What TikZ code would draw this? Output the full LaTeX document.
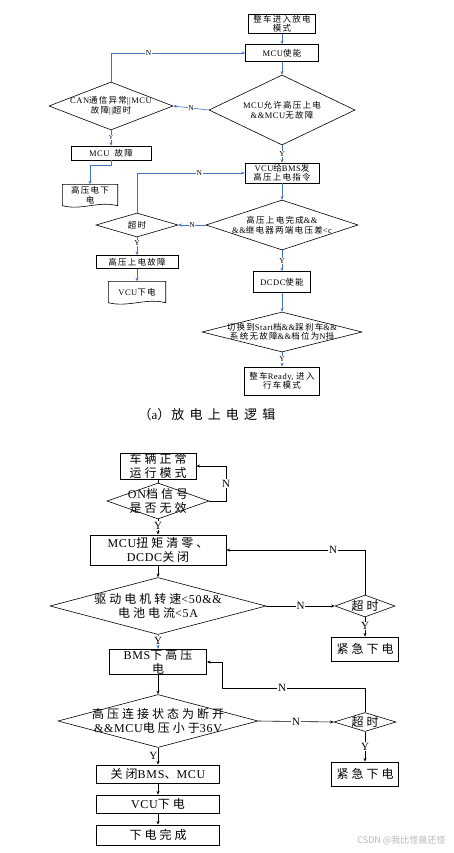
\documentclass[tikz,border=0pt]{standalone}
\usepackage{fontspec}
\usetikzlibrary{shapes.geometric,arrows.meta}
\setmainfont{Liberation Serif}
\newfontfamily\latinfont{Liberation Serif}[LetterSpace=6]
\newfontfamily\zhfont{Noto Sans CJK SC}[LetterSpace=15]
\newfontfamily\zhwide{Noto Sans CJK SC}[LetterSpace=25]
\newfontfamily\captzh{Noto Sans CJK SC}[LetterSpace=40]
\newfontfamily\markfont{Noto Sans CJK SC}

% switch fonts between Chinese and Latin characters
\newcommand\zhsel{\zhfont}
\newcommand\latinsel{\latinfont}
\XeTeXinterchartokenstate=1
\newXeTeXintercharclass\zhclass
\newcount\zhcnt
\zhcnt="3000
\loop
  \XeTeXcharclass\zhcnt=\zhclass
  \advance\zhcnt by 1
\ifnum\zhcnt<"A000 \repeat
\zhcnt="FF00
\loop
  \XeTeXcharclass\zhcnt=\zhclass
  \advance\zhcnt by 1
\ifnum\zhcnt<"FFF0 \repeat
\XeTeXinterchartoks 0 \zhclass = {\zhsel}
\XeTeXinterchartoks 4095 \zhclass = {\zhsel}
\XeTeXinterchartoks \zhclass 0 = {\latinsel}
\XeTeXinterchartoks 4095 0 = {\latinsel}

\definecolor{linkblue}{RGB}{68,114,196}
\newcommand\topfont{\fontsize{8.5}{9.5}\selectfont}
\newcommand\botfont{\let\zhsel\zhwide\fontsize{12}{13.5}\selectfont}
\newcommand\captfont{\let\zhsel\captzh\fontsize{13}{13}\selectfont}
\newcommand\markfnt{\let\zhsel\markfont\let\latinsel\markfont\fontsize{9}{9}\selectfont}
% outline of a document symbol round a node
\newcommand\docline[1]{\draw[line width=0.6pt] (#1.south west) -- (#1.north west) -- (#1.north east) -- (#1.south east) .. controls +(-20,-5) and +(20,5) .. (#1.south west);}

\begin{document}
\begin{tikzpicture}[x=1pt, y=-1pt,
  >={Stealth[length=3.5pt, width=3pt]},
  topbox/.style={draw, line width=0.8pt, inner sep=0.5pt, align=center, font=\topfont},
  topdia/.style={draw, diamond, line width=0.6pt, inner sep=0pt},
  toptext/.style={align=center, font=\topfont, inner sep=0pt},
  topdoc/.style={inner sep=0.5pt, align=center, font=\topfont},
  bluelink/.style={->, draw=linkblue, line width=0.6pt},
  toplab/.style={fill=white, inner sep=0.6pt, font=\fontsize{7.5}{8}\selectfont},
  botbox/.style={draw, line width=0.9pt, inner sep=0.5pt, align=center, font=\botfont},
  botdia/.style={draw, diamond, line width=0.6pt, inner sep=0pt},
  bottext/.style={align=center, font=\botfont, inner sep=0pt},
  blacklink/.style={->, line width=0.6pt},
  botlab/.style={fill=white, inner sep=0.8pt, font=\fontsize{11}{11}\selectfont},
]
\useasboundingbox (0,0) rectangle (453,853);
\fill[white] (0,0) rectangle (453,853);

% (a) power up
\node[topbox, minimum width=67, minimum height=17] (start) at (282,24) {整车进入放电\\模式};
\node[topbox, minimum width=73, minimum height=17] (mcuen) at (282,53) {MCU使能};
\node[topdia, minimum width=146, minimum height=70, label={[toptext]center:MCU允许高压上电\\\&\&MCU无故障}] (allow) at (282,110) {};
\node[topdia, minimum width=124, minimum height=48, label={[toptext]center:CAN通信异常||MCU\\故障||超时}] (canerr) at (111,106) {};
\node[topbox, minimum width=80, minimum height=14] (mcuerr) at (111,153) {MCU\ \ 故障};
\node[topdoc, minimum width=55, minimum height=21] (hvoff) at (90,195) {高压电下\\电};
\node[topbox, minimum width=74, minimum height=20] (hvcmd) at (282,173) {VCU给BMS发\\高压上电指令};
\node[topdia, minimum width=152, minimum height=50, label={[toptext]center:高压上电完成\&\&\\\&\&继电器两端电压差<c}] (hvdone) at (282,225) {};
\node[topdia, minimum width=82, minimum height=24, label={[toptext]center:超时}] (tout1) at (137,225) {};
\node[topbox, minimum width=82, minimum height=13] (hverr) at (137,262) {高压上电故障};
\node[topdoc, minimum width=57, minimum height=21] (vcuoff1) at (137,292) {VCU下电};
\node[topbox, minimum width=57, minimum height=21] (dcdc) at (282,282) {DCDC使能};
\node[topdia, minimum width=160, minimum height=40, label={[toptext]center:切换到Start档\&\&踩刹车\&\&\\系统无故障\&\&档位为N挡}] (ready) at (282,332) {};
\node[topbox, minimum width=75, minimum height=28] (drive) at (282,381) {整车Ready, 进入\\行车模式};
\docline{hvoff}
\docline{vcuoff1}

\draw[bluelink] (start) -- (mcuen);
\draw[bluelink] (mcuen) -- (allow);
\draw[bluelink] (allow.west) -- node[toplab]{N} (canerr.east);
\draw[bluelink] (canerr.north) |- node[toplab, pos=0.64]{N} (mcuen.west);
\draw[bluelink] (canerr.south) -- node[toplab, pos=0.45, font=\fontsize{6}{6}\selectfont]{Y} (mcuerr.north);
\draw[bluelink] (mcuerr.south) -- ++(0,5) -| (hvoff.north);
\draw[bluelink] (allow.south) -- node[toplab]{Y} (hvcmd.north);
\draw[bluelink] (hvcmd) -- (hvdone);
\draw[bluelink] (hvdone.west) -- node[toplab]{N} (tout1.east);
\draw[bluelink] (tout1.north) |- node[toplab, pos=0.79]{N} (hvcmd.west);
\draw[bluelink] (tout1.south) -- node[toplab, pos=0.3]{Y} (hverr.north);
\draw[bluelink] (hverr) -- (vcuoff1);
\draw[bluelink] (hvdone.south) -- node[toplab]{Y} (dcdc.north);
\draw[bluelink] (dcdc) -- (ready);
\draw[bluelink] (ready.south) -- node[toplab]{Y} (drive.north);

\node[font=\captfont] (capa) at (207,415) {（a）\hspace{1pt}放电上电逻辑};

% (b) power down
\node[botbox, minimum width=76, minimum height=26] (normal) at (158,466) {车辆正常\\运行模式};
\node[botdia, minimum width=102, minimum height=36, label={[bottext]center:ON档信号\\是否无效}] (onsig) at (158,501) {};
\node[botbox, minimum width=136, minimum height=30] (clear) at (158,550) {MCU扭矩清零、\\DCDC关闭};
\node[botdia, minimum width=216, minimum height=57, label={[bottext]center:驱动电机转速<50\&\&\\电池电流<5A}] (speed) at (158,606) {};
\node[botdia, minimum width=60, minimum height=22, label={[bottext]center:超时}] (tout2) at (365,606) {};
\node[botbox, minimum width=67, minimum height=24] (emerg1) at (365,649) {紧急下电};
\node[botbox, minimum width=97, minimum height=25] (bmsoff) at (158,662) {BMS下高压\\电};
\node[botdia, minimum width=200, minimum height=53, label={[bottext]center:高压连接状态为断开\\\&\&MCU电压小于36V}] (hvopen) at (158,721) {};
\node[botdia, minimum width=62, minimum height=19, label={[bottext]center:超时}] (tout3) at (365,722) {};
\node[botbox, minimum width=67, minimum height=24] (emerg2) at (365,774) {紧急下电};
\node[botbox, minimum width=123, minimum height=18] (closeall) at (158,774) {关闭BMS、MCU};
\node[botbox, minimum width=123, minimum height=18] (vcuoff2) at (158,804) {VCU下电};
\node[botbox, minimum width=123, minimum height=20] (done) at (158,835) {下电完成};

\coordinate (onback) at (226,466);
\coordinate (hvback) at (222,688);
\draw[line width=0.6pt] (normal) -- (onsig);
\draw[blacklink] (onsig.east) -| node[botlab, pos=0.75]{N} (onback) -- (normal.east);
\draw[blacklink] (onsig.south) -- node[botlab, pos=0.4]{Y} (clear.north);
\draw[blacklink] (clear) -- (speed);
\draw[blacklink] (speed.east) -- node[botlab]{N} (tout2.west);
\draw[blacklink] (tout2.north) |- node[botlab, pos=0.615]{N} (clear.east);
\draw[blacklink] (tout2.south) -- node[botlab, pos=0.45]{Y} (emerg1.north);
\draw[bluelink] (speed.south) -- node[botlab, pos=0.4]{Y} (bmsoff.north);
\draw[blacklink] (bmsoff) -- (hvopen);
\draw[blacklink] (hvopen.east) -- node[botlab]{N} (tout3.west);
\draw[blacklink] (tout3.north) |- node[botlab, pos=0.79]{N} (hvback) |- (bmsoff.east);
\draw[blacklink] (tout3.south) -- node[botlab]{Y} (emerg2.north);
\draw[blacklink] (hvopen.south) -- node[botlab, left, fill=none, inner sep=0.5pt]{Y} (closeall.north);
\draw[blacklink] (closeall) -- (vcuoff2);
\draw[blacklink] (vcuoff2) -- (done);

\node[anchor=east, text=black!28, font=\markfnt] (mark) at (449,840) {CSDN @我比怪兽还怪};
\end{tikzpicture}
\end{document}
